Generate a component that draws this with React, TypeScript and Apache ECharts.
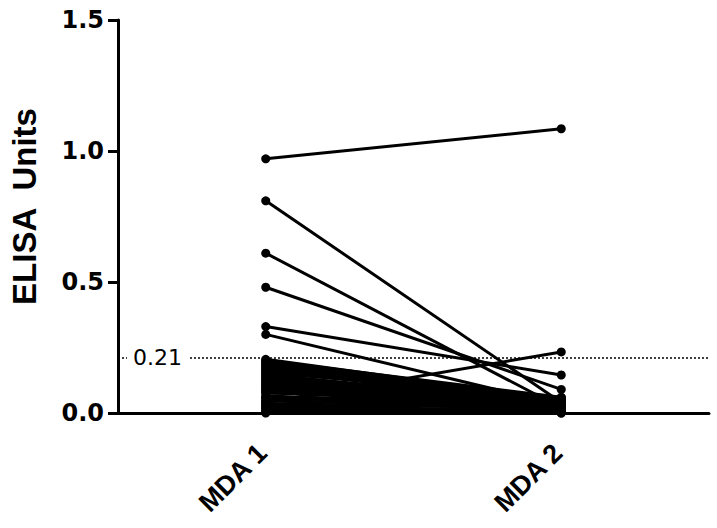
import React, { useEffect, useRef } from "react";
import * as echarts from "echarts";

const categories = ["MDA 1", "MDA 2"];
const yTicks = [0, 0.5, 1.0, 1.5];
const cutoff = 0.21;

// Paired subjects: value at MDA 1 and at MDA 2
const mda1 = [
  0.97, 0.81, 0.61, 0.48, 0.33, 0.30, 0.205, 0.2, 0.195, 0.19, 0.185, 0.18, 0.175,
  0.17, 0.165, 0.16, 0.155, 0.15, 0.145, 0.14, 0.135, 0.13, 0.125, 0.12, 0.115,
  0.11, 0.105, 0.1, 0.095, 0.09, 0.085, 0.08, 0.075, 0.065, 0.06, 0.055, 0.05,
  0.045, 0.04, 0.035, 0.03, 0.025, 0.02, 0.015, 0.01, 0.005, 0.0,
];
const mda2 = [
  1.085, 0.04, 0.02, 0.09, 0.145, 0.03, 0.05, 0.06, 0.045, 0.04, 0.03, 0.05, 0.025,
  0.02, 0.035, 0.045, 0.055, 0.01, 0.04, 0.035, 0.015, 0.03, 0.05, 0.02, 0.005,
  0.055, 0.025, 0.01, 0.045, 0.04, 0.03, 0.02, 0.06, 0.03, 0.015, 0.05, 0.01,
  0.035, 0.233, 0.02, 0.005, 0.03, 0.01, 0.0, 0.02, 0.005, 0.0,
];

const SANS = "'Liberation Sans', Arial, Helvetica, sans-serif";
const NUM = "'DejaVu Sans', 'Liberation Sans', sans-serif";

export default function App() {
  const ref = useRef<HTMLDivElement>(null);
  useEffect(() => {
    if (!ref.current) return;
    const chart = echarts.init(ref.current, null, { renderer: "svg" });
    const series: any[] = mda1.map((v, i) => ({
      type: "line",
      data: [v, mda2[i]],
      symbol: "circle",
      symbolSize: 9,
      itemStyle: { color: "#000" },
      lineStyle: { color: "#000", width: 3 },
      silent: true,
      z: 3,
    }));
    series.push({
      type: "line",
      data: [],
      markLine: {
        silent: true,
        symbol: "none",
        lineStyle: { color: "#000", type: [2, 2], width: 1.5 },
        label: {
          show: true,
          position: "insideStart",
          distance: [9, 0],
          formatter: "0.21",
          color: "#000",
          fontFamily: NUM,
          fontSize: 22,
          backgroundColor: "#fff",
          padding: [0, 6, 0, 6],
        },
        data: [{ yAxis: cutoff }],
      },
      z: 2,
    });
    chart.setOption({
      animation: false,
      backgroundColor: "#fff",
      grid: { left: 115, right: 8, top: 20, bottom: 115 },
      xAxis: {
        type: "category",
        data: categories,
        boundaryGap: true,
        axisLine: { lineStyle: { color: "#000", width: 3 } },
        axisTick: { alignWithLabel: true, length: 8, lineStyle: { color: "#000", width: 3 } },
        axisLabel: {
          rotate: 45,
          margin: 32,
          color: "#000",
          fontFamily: SANS,
          fontWeight: "bold",
          fontSize: 27,
          padding: [0, 5, 16, 0],
        },
      },
      yAxis: {
        type: "value",
        min: 0,
        max: 1.5,
        interval: 0.5,
        name: "ELISA  Units",
        nameLocation: "middle",
        nameGap: 77,
        nameTextStyle: {
          color: "#000",
          fontFamily: SANS,
          fontWeight: "bold",
          fontSize: 33,
          padding: [0, 0, 0, 20],
        },
        axisLine: { show: true, lineStyle: { color: "#000", width: 3 } },
        axisTick: { show: true, length: 10, lineStyle: { color: "#000", width: 3 } },
        splitLine: { show: false },
        axisLabel: {
          color: "#000",
          fontFamily: NUM,
          fontWeight: "bold",
          fontSize: 24,
          margin: 14,
          formatter: (v: number) => v.toFixed(1),
          customValues: yTicks,
        },
      },
      series,
    });
    return () => chart.dispose();
  }, []);
  return (
    <div
      ref={ref}
      style={{ position: "fixed", left: 0, top: 0, width: 717, height: 528 }}
    />
  );
}
